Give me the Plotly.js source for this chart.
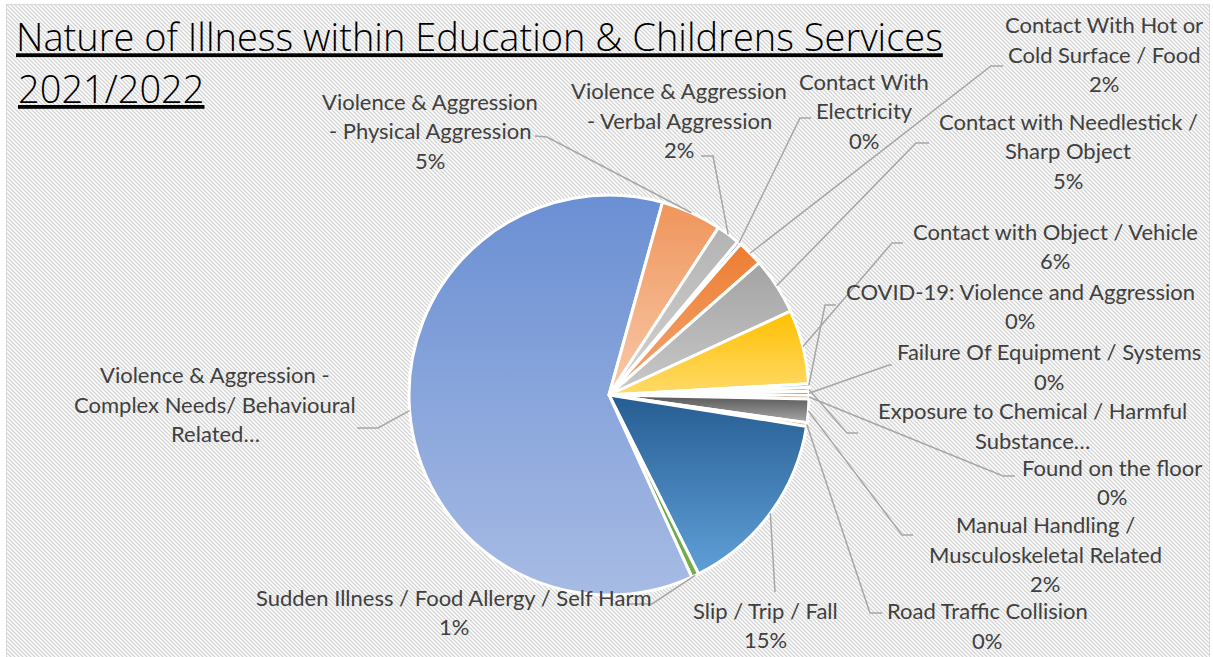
<!DOCTYPE html>
<html>
<head>
<meta charset="utf-8">
<script src="https://cdn.plot.ly/plotly-3.0.1.min.js"></script>
<style>
html, body { margin: 0; padding: 0; background: #ffffff; overflow: hidden; }
#frame {
  position: absolute; left: 6px; top: 4px; width: 1204px; height: 700px;
  border: 1px solid #d9d9d9; box-sizing: border-box;
  background-color: #ffffff;
  background-image: url("data:image/svg+xml;utf8,<svg xmlns='http://www.w3.org/2000/svg' width='4' height='4'><path d='M-1,-1L5,5M-1,3L1,5M3,-1L5,1' stroke='%23d4d4d4' stroke-width='1.3'/></svg>");
}
#chart { position: absolute; left: 0; top: 0; width: 1213px; height: 657px; }
</style>
</head>
<body>
<div id="frame"></div>
<div id="chart"></div>
<script>
// ---------------- DATA ----------------
const titleLine1 = "Nature of Illness within Education & Childrens Services";
const titleLine2 = "2021/2022";

const categories = [
  "Contact With Electricity",
  "Contact With Hot or Cold Surface / Food",
  "Contact with Needlestick / Sharp Object",
  "Contact with Object / Vehicle",
  "COVID-19: Violence and Aggression",
  "Exposure to Chemical / Harmful Substance…",
  "Failure Of Equipment / Systems",
  "Found on the floor",
  "Manual Handling / Musculoskeletal Related",
  "Road Traffic Collision",
  "Slip / Trip / Fall",
  "Sudden Illness / Food Allergy / Self Harm",
  "Violence & Aggression - Complex Needs/ Behavioural Related…",
  "Violence & Aggression - Physical Aggression",
  "Violence & Aggression - Verbal Aggression"
];

// share of incidents (percent)
const values = [0.3, 2.1, 4.6, 6.0, 0.3, 0.3, 0.3, 0.3, 1.9, 0.3, 15.1, 0.6, 61.1, 4.9, 1.9];

// ---------------- STYLE / LAYOUT ----------------
const W = 1213, H = 657;
const pieCenter = [609, 395];
const pieRadius = 200;
const pieRotation = 40;

// gradient top / bottom colours per slice
const sliceShades = [
  ["#4472c4", "#8faadc"],
  ["#ed7d31", "#f3a877"],
  ["#a3a3a3", "#c9c9c9"],
  ["#ffc000", "#ffda6a"],
  ["#5b9bd5", "#9dc3e6"],
  ["#70ad47", "#a9d18e"],
  ["#264478", "#4a6ea8"],
  ["#9e480e", "#c9743a"],
  ["#555555", "#a9a9a9"],
  ["#997300", "#c9a227"],
  ["#265d92", "#5fa0d8"],
  ["#5b9a3e", "#74b04b"],
  ["#6a8fd3", "#a7bbe4"],
  ["#ef955b", "#f8c9a9"],
  ["#b3b3b3", "#d3d3d3"]
];

// label placement (px): centre x, block centre y, wrap width (chars), show %, leader points (label side)
const labelSpecs = [
  {cx: 864, cy: 111, wrap: 12, pct: true, lead: [[811, 118], [800, 118]]},
  {cx: 1104, cy: 54, wrap: 19, pct: true, lead: [[1003, 66], [991, 66]]},
  {cx: 1068, cy: 151, wrap: 26, pct: true, lead: [[929, 143], [916, 143]]},
  {cx: 1055, cy: 246, wrap: 40, pct: true, lead: [[903, 243], [892, 243]]},
  {cx: 1020, cy: 306, wrap: 40, pct: true, lead: [[836, 305], [825, 305]]},
  {cx: 1032, cy: 425.5, wrap: 30, pct: false, lead: [[858, 433], [847, 433]]},
  {cx: 1049, cy: 366.5, wrap: 40, pct: true, lead: [[892, 365], [889, 365]]},
  {cx: 1112, cy: 482, wrap: 40, pct: true, lead: [[1015, 476], [1003, 476]]},
  {cx: 1045, cy: 554, wrap: 23, pct: true, lead: [[913, 535], [902, 535]]},
  {cx: 987, cy: 625.5, wrap: 40, pct: true, lead: [[882, 613], [870, 613]]},
  {cx: 765, cy: 625, wrap: 40, pct: true, lead: [[775, 592]]},
  {cx: 454, cy: 612, wrap: 45, pct: true, lead: [[628, 604], [652, 604]]},
  {cx: 215, cy: 404, wrap: 26, pct: false, lead: [[357, 428], [378, 428]]},
  {cx: 430, cy: 131, wrap: 22, pct: true, lead: [[535, 136], [547, 137]]},
  {cx: 679, cy: 120, wrap: 22, pct: true, lead: [[701, 156], [713, 156]]}
];
const lineGap = 29.5;
const labelFont = {family: "Lato, 'Open Sans', sans-serif", size: 22, color: "#404040"};
const titleFont = {family: "'Open Sans', Lato, sans-serif", size: 38, weight: 300, color: "#000000"};

// ---------------- helpers ----------------
const px2x = x => x / W;
const px2y = y => 1 - y / H;
function wrap(text, max) {
  const words = text.split(" ");
  const lines = [];
  let cur = "";
  for (const w of words) {
    if (cur && (cur + " " + w).length > max) { lines.push(cur); cur = w; }
    else { cur = cur ? cur + " " + w : w; }
  }
  if (cur) lines.push(cur);
  return lines;
}

const total = values.reduce((a, b) => a + b, 0);
const annotations = [];
const shapes = [];
let cum = 0;
values.forEach((v, i) => {
  const spec = labelSpecs[i];
  const lines = wrap(categories[i], spec.wrap);
  if (spec.pct) lines.push(Math.round(v / total * 100) + "%");
  const n = lines.length;
  lines.forEach((t, k) => {
    const y = spec.cy + (k - (n - 1) / 2) * lineGap;
    annotations.push({
      text: t, x: px2x(spec.cx), y: px2y(y), xref: "paper", yref: "paper",
      xanchor: "center", yanchor: "middle", showarrow: false, font: labelFont
    });
  });
  // leader line to the slice's mid angle on the pie edge
  const mid = (pieRotation + (cum + v / 2) / total * 360) * Math.PI / 180;
  cum += v;
  const ex = pieCenter[0] + pieRadius * Math.sin(mid);
  const ey = pieCenter[1] - pieRadius * Math.cos(mid);
  const pts = spec.lead.concat([[ex, ey]]);
  const path = pts.map((p, j) => (j ? "L" : "M") + px2x(p[0]).toFixed(5) + "," + px2y(p[1]).toFixed(5)).join(" ");
  shapes.push({type: "path", xref: "paper", yref: "paper", path: path,
    line: {color: "#a6a6a6", width: 1.5}, layer: "above"});
});

annotations.push({
  text: "<u>" + titleLine2 + "</u>", x: px2x(16), y: px2y(88), xref: "paper", yref: "paper",
  xanchor: "left", yanchor: "middle", showarrow: false, font: titleFont
});

const trace = {
  type: "pie",
  labels: categories,
  values: values,
  sort: false,
  direction: "clockwise",
  rotation: pieRotation,
  textinfo: "none",
  hoverinfo: "label+percent",
  showlegend: false,
  marker: {colors: sliceShades.map(s => s[0]), line: {color: "#ffffff", width: 3}},
  domain: {
    x: [px2x(pieCenter[0] - pieRadius), px2x(pieCenter[0] + pieRadius)],
    y: [px2y(pieCenter[1] + pieRadius), px2y(pieCenter[1] - pieRadius)]
  }
};

const layout = {
  width: W, height: H,
  margin: {l: 0, r: 0, t: 0, b: 0},
  paper_bgcolor: "rgba(0,0,0,0)",
  plot_bgcolor: "rgba(0,0,0,0)",
  showlegend: false,
  title: {
    text: "<u>" + titleLine1 + "</u>",
    x: px2x(16), xanchor: "left", xref: "paper",
    y: px2y(38), yanchor: "middle", yref: "paper",
    font: titleFont
  },
  annotations: annotations,
  shapes: shapes
};

Plotly.newPlot("chart", [trace], layout, {displayModeBar: false, staticPlot: true}).then(gd => {
  // vertical gradient fill for every slice (top -> bottom of the slice)
  const svg = gd.querySelector("svg.main-svg");
  const NS = "http://www.w3.org/2000/svg";
  const defs = document.createElementNS(NS, "defs");
  svg.insertBefore(defs, svg.firstChild);
  const paths = gd.querySelectorAll(".pielayer .slice path.surface");
  paths.forEach((p, i) => {
    const shade = sliceShades[i];
    if (!shade) return;
    const g = document.createElementNS(NS, "linearGradient");
    g.setAttribute("id", "sliceGrad" + i);
    g.setAttribute("x1", "0"); g.setAttribute("y1", "0");
    g.setAttribute("x2", "0"); g.setAttribute("y2", "1");
    [[0, shade[0]], [1, shade[1]]].forEach(([o, c]) => {
      const s = document.createElementNS(NS, "stop");
      s.setAttribute("offset", o);
      s.setAttribute("stop-color", c);
      g.appendChild(s);
    });
    defs.appendChild(g);
    p.style.fill = "url(#sliceGrad" + i + ")";
  });
});
</script>
</body>
</html>
